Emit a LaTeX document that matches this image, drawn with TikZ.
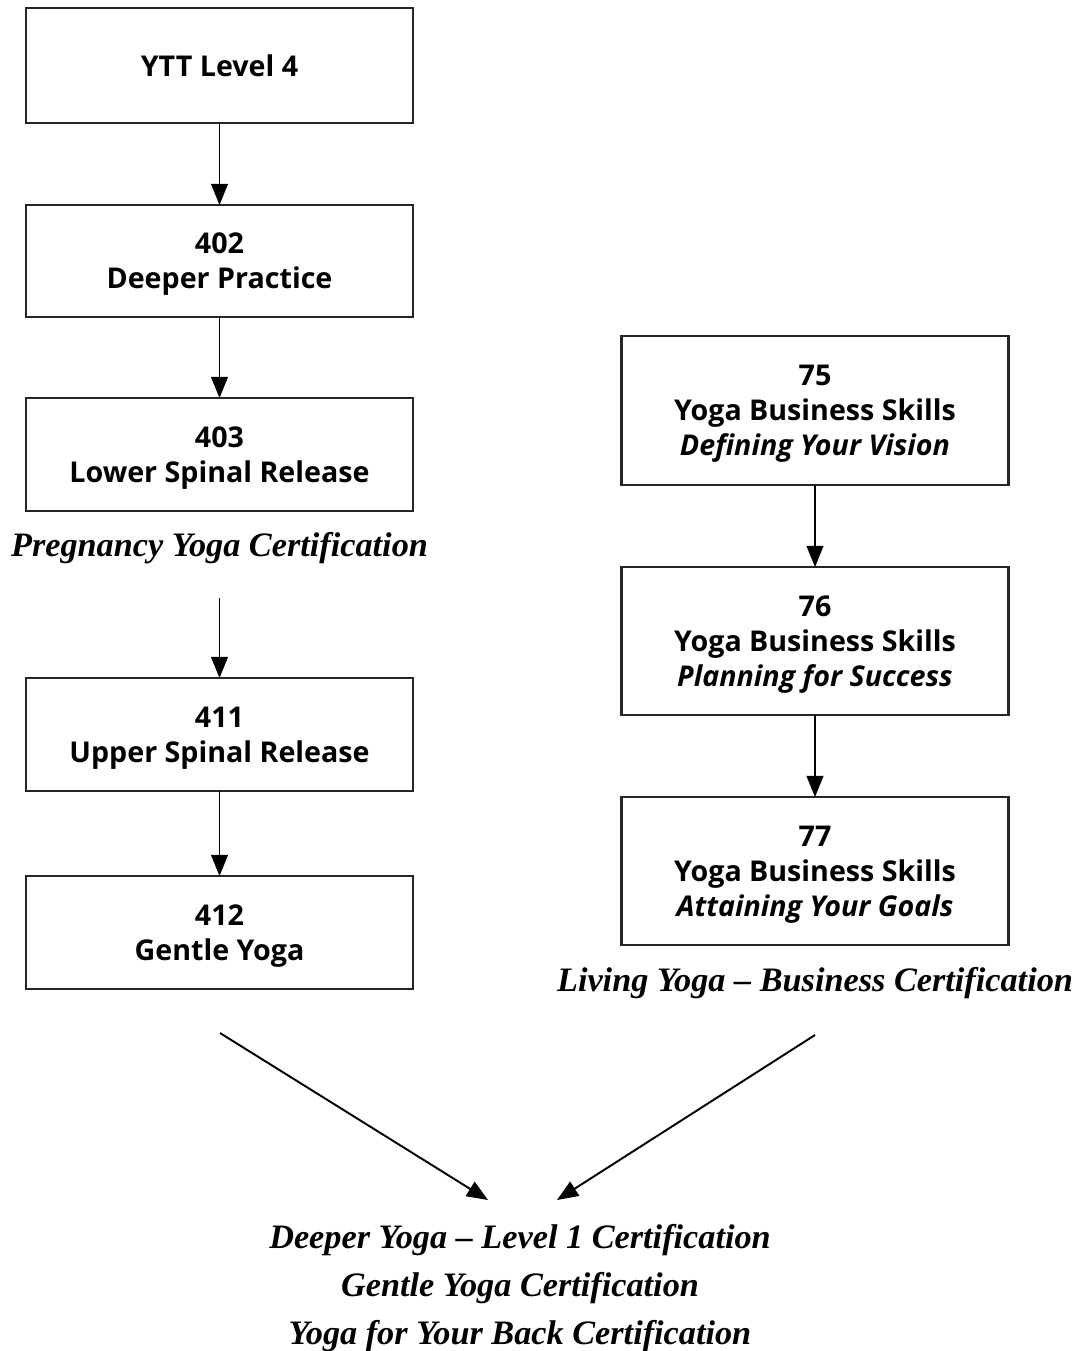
\documentclass[tikz,border=0pt]{standalone}
\usepackage{fontspec}
\setmainfont{Liberation Serif}
\setsansfont{Open Sans}
\usetikzlibrary{arrows.meta}

\tikzset{
  course/.style={draw=black!85, line width=1.4pt, inner sep=0pt, outer sep=0pt,
    minimum width=7.74cm, align=center,
    font=\sffamily\bfseries\fontsize{16.3}{19.8}\selectfont},
  % less depth under the last line sets the lines a bit lower in the box
  stacked/.style={course, text depth=-1.8pt},
  cert/.style={inner sep=0pt, font=\rmfamily\bfseries\itshape\fontsize{19.5}{27}\selectfont},
  flow/.style={line width=1.1pt, -{Triangle[length=12pt,width=9.5pt]}},
}

\begin{document}
\begin{tikzpicture}[x=0.02cm, y=-0.02cm]
\useasboundingbox (0,0) rectangle (1078,1351);

% left column
\node[course, minimum height=2.30cm] (ytt) at (219.5,65.5) {YTT Level 4};
\node[stacked, minimum height=2.24cm] (c402) at (219.5,261) {402\\Deeper Practice};
\node[stacked, minimum height=2.26cm] (c403) at (219.5,454.5) {403\\Lower Spinal Release};
\node[cert] (preg) at (219.5,548) {Pregnancy Yoga Certification};
\node[stacked, minimum height=2.26cm] (c411) at (219.5,734.5) {411\\Upper Spinal Release};
\node[stacked, minimum height=2.26cm] (c412) at (219.5,932.5) {412\\Gentle Yoga};

% right column
\node[stacked, minimum height=2.98cm] (c75) at (815,410.5) {75\\Yoga Business Skills\\\textit{Defining Your Vision}};
\node[stacked, minimum height=2.96cm] (c76) at (815,641) {76\\Yoga Business Skills\\\textit{Planning for Success}};
\node[stacked, minimum height=2.96cm] (c77) at (815,871) {77\\Yoga Business Skills\\\textit{Attaining Your Goals}};
\node[cert] (biz) at (815,983) {Living Yoga -- Business Certification};

% results
\node[cert] (deep) at (520,1240) {Deeper Yoga -- Level 1 Certification};
\node[cert] (gent) at (520,1288) {Gentle Yoga Certification};
\node[cert] (back) at (520,1336) {Yoga for Your Back Certification};

\coordinate (pregout) at (219.5,598);
\coordinate (lout) at (220,1033);
\coordinate (rout) at (815,1035);
\coordinate (lin) at (488,1200);
\coordinate (rin) at (557,1200);

\draw[flow] (ytt) -- (c402);
\draw[flow] (c402) -- (c403);
\draw[flow] (pregout) -- (c411);
\draw[flow] (c411) -- (c412);
\draw[flow] (c75) -- (c76);
\draw[flow] (c76) -- (c77);
\draw[flow] (lout) -- (lin);
\draw[flow] (rout) -- (rin);
\end{tikzpicture}
\end{document}
